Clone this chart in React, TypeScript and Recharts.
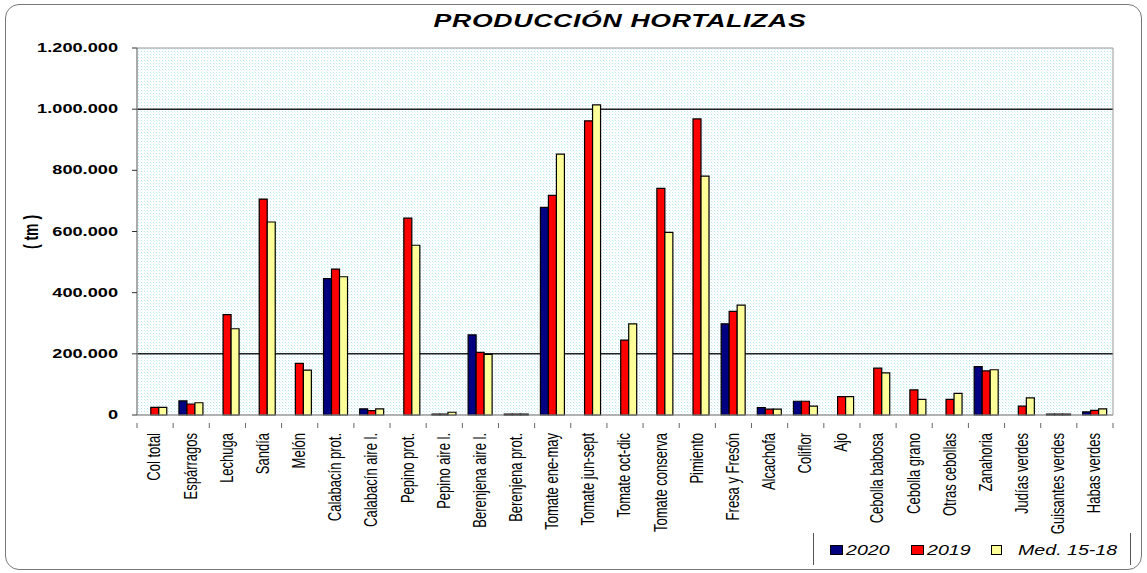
import React from 'react'
import { BarChart, Bar, XAxis, YAxis, CartesianGrid, ReferenceArea } from 'recharts'

const categories = [
  'Col total', 'Espárragos', 'Lechuga', 'Sandía', 'Melón', 'Calabacín prot.', 'Calabacín aire l.',
  'Pepino prot.', 'Pepino aire l.', 'Berenjena aire l.', 'Berenjena prot.', 'Tomate ene-may',
  'Tomate jun-sept', 'Tomate oct-dic', 'Tomate conserva', 'Pimiento', 'Fresa y Fresón', 'Alcachofa',
  'Coliflor', 'Ajo', 'Cebolla babosa', 'Cebolla grano', 'Otras cebollas', 'Zanahoria', 'Judías verdes',
  'Guisantes verdes', 'Habas verdes',
]

const v2020 = [
  0, 46000, 0, 0, 0, 446000, 20000, 0, 3000, 262000, 3000, 679000, 0, 0, 0, 0, 298000, 24000,
  45000, 0, 0, 0, 0, 158000, 0, 3000, 10000,
]
const v2019 = [
  25000, 36000, 328000, 706000, 169000, 477000, 14000, 644000, 3000, 205000, 3000, 718000, 962000,
  245000, 741000, 968000, 339000, 19000, 45000, 60000, 153000, 82000, 51000, 144000, 29000, 3000, 15000,
]
const vMed = [
  25000, 40000, 282000, 631000, 147000, 452000, 20000, 555000, 9000, 198000, 3000, 853000, 1014000,
  298000, 597000, 781000, 359000, 19000, 29000, 60000, 138000, 51000, 71000, 148000, 56000, 3000, 20000,
]

const yTicks = [0, 200000, 400000, 600000, 800000, 1000000, 1200000]
const seriesNames = ['2020', '2019', 'Med. 15-18']

const data = categories.map((name, i) => ({ name, a2020: v2020[i], a2019: v2019[i], med: vMed[i] }))

const W = 1147
const H = 573
const M = { top: 48, right: 34, left: 0, bottom: 0 }
const Y_W = 137
const step = (W - M.right - Y_W) / categories.length

const fmt = (v: number) => String(v).replace(/\B(?=(\d{3})+(?!\d))/g, '.')

const XTick = (props: any) => {
  const { x, y, payload, index } = props
  return (
    <g transform={`translate(${x},${y})`}>
      <line x1={step / 2} x2={step / 2} y1={0} y2={5} stroke="#666" />
      {index === 0 && <line x1={-step / 2} x2={-step / 2} y1={0} y2={5} stroke="#666" />}
      <text
        transform="rotate(-90) scale(1,1.35)"
        x={-10}
        y={4}
        textAnchor="end"
        fontFamily="Liberation Sans, Arial, sans-serif"
        fontSize={13}
        fill="#000"
      >
        {payload.value}
      </text>
    </g>
  )
}

const YTick = (props: any) => {
  const { x, y, payload } = props
  return (
    <g transform={`translate(${x},${y})`}>
      <text
        transform="scale(1.4,1)"
        textAnchor="end"
        dy={4}
        fontFamily="Liberation Sans, Arial, sans-serif"
        fontWeight="bold"
        fontSize={13}
        fill="#000"
      >
        {fmt(payload.value)}
      </text>
    </g>
  )
}

const legendColors = ['#000080', '#ff0000', '#ffff99']

export default function App() {
  return (
    <div style={{ position: 'absolute', left: 0, top: 0, width: W, height: H, background: '#fff' }}>
      <div
        style={{
          position: 'absolute', left: 5, top: 4, width: 1135, height: 564,
          border: '1px solid #777', borderRadius: 14,
        }}
      />
      <div
        style={{
          position: 'absolute', left: 620, top: 10, transform: 'translateX(-50%) scaleX(1.4)',
          fontFamily: 'Liberation Sans, Arial, sans-serif', fontWeight: 'bold', fontStyle: 'italic',
          fontSize: 19, letterSpacing: 0.5, whiteSpace: 'pre',
        }}
      >
        PRODUCCIÓN HORTALIZAS
      </div>
      <div
        style={{
          position: 'absolute', left: 31, top: 232, transform: 'translate(-50%,-50%) rotate(-90deg) scaleY(1.4)',
          fontFamily: 'Liberation Sans, Arial, sans-serif', fontWeight: 'bold', fontSize: 14, whiteSpace: 'pre',
        }}
      >
        ( tm )
      </div>
      <BarChart width={W} height={H} data={data} margin={M} barCategoryGap="16%" barGap={0}>
        <defs>
          <pattern id="dots" width="3" height="3" patternUnits="userSpaceOnUse">
            <rect width="3" height="3" fill="#ffffff" />
            <rect x="0" y="0" width="1" height="1" fill="#b6e6ef" />
            <rect x="1" y="1" width="1" height="1" fill="#e4f6f9" />
          </pattern>
        </defs>
        <CartesianGrid
          vertical={false}
          horizontalValues={[200000, 1000000]}
          stroke="#222"
          strokeWidth={1.5}
          fill="url(#dots)"
          fillOpacity={1}
        />
        <ReferenceArea y1={0} y2={1200000} fill="none" stroke="#999" strokeWidth={1} ifOverflow="visible" />
        <XAxis
          dataKey="name"
          interval={0}
          height={H - M.top - 367}
          tickLine={false}
          axisLine={{ stroke: '#999' }}
          tick={<XTick />}
        />
        <YAxis
          width={Y_W}
          domain={[0, 1200000]}
          ticks={yTicks}
          interval={0}
          tickSize={5}
          tickMargin={14}
          axisLine={{ stroke: '#888' }}
          tickLine={{ stroke: '#333' }}
          tick={<YTick />}
        />
        <Bar dataKey="a2020" name={seriesNames[0]} fill={legendColors[0]} stroke="#000" strokeWidth={1.2} isAnimationActive={false} />
        <Bar dataKey="a2019" name={seriesNames[1]} fill={legendColors[1]} stroke="#000" strokeWidth={1.2} isAnimationActive={false} />
        <Bar dataKey="med" name={seriesNames[2]} fill={legendColors[2]} stroke="#000" strokeWidth={1.2} isAnimationActive={false} />
      </BarChart>
      <div
        style={{
          position: 'absolute', left: 813, top: 533, width: 316, height: 32,
          borderLeft: '1px solid #555', borderRight: '1px solid #555',
        }}
      >
        {seriesNames.map((s, i) => {
          const lefts = [16, 97, 177]
          return (
            <div key={s} style={{ position: 'absolute', left: lefts[i], top: 9, display: 'flex', alignItems: 'center' }}>
              <span
                style={{
                  display: 'inline-block', width: i === 2 ? 9 : 11, height: 8, background: legendColors[i],
                  border: '1px solid #000', marginRight: i === 2 ? 16 : 3,
                }}
              />
              <span
                style={{
                  fontFamily: 'Liberation Sans, Arial, sans-serif', fontStyle: 'italic', fontSize: 14,
                  transform: 'scaleX(1.4)', transformOrigin: '0 50%', display: 'inline-block',
                }}
              >
                {s}
              </span>
            </div>
          )
        })}
      </div>
    </div>
  )
}
